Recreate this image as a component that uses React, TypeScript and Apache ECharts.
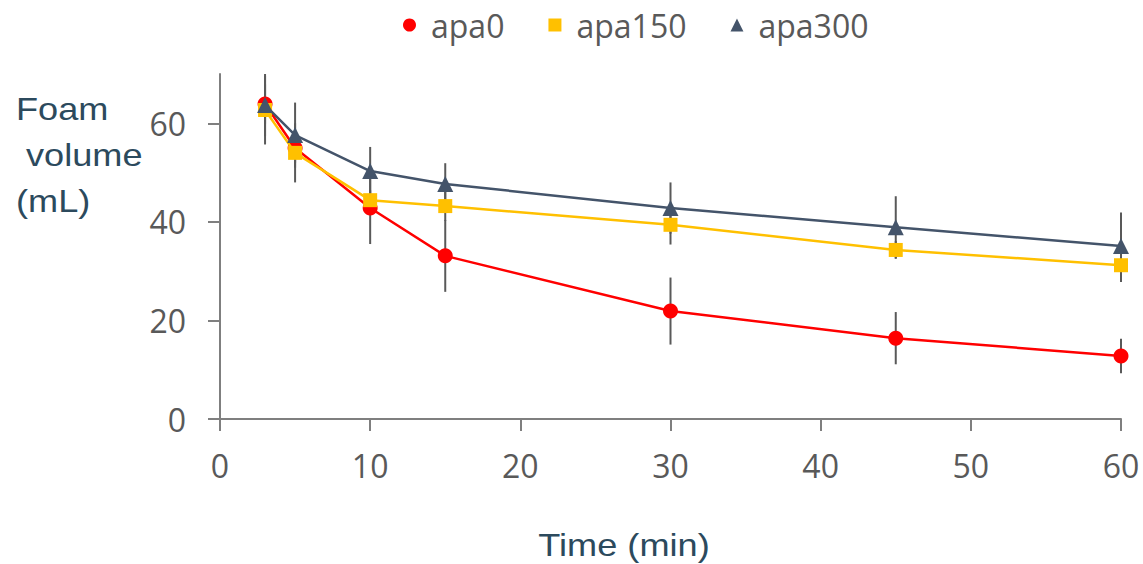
import React, { useEffect, useRef } from "react";
import * as echarts from "echarts";

const times = [3, 5, 10, 15, 30, 45, 60];
const apa0 = [63.9, 55.0, 42.8, 33.1, 21.9, 16.4, 12.8];
const apa150 = [62.7, 54.0, 44.4, 43.2, 39.4, 34.3, 31.2];
const apa300 = [63.7, 57.6, 50.3, 47.7, 42.8, 38.9, 35.1];
const err0 = [4, 3, 7.3, 7.3, 6.8, 5.3, 3.5];
const err150 = [7, 6, 2, 3, 4, 1.8, 3.4];
const err300 = [6.3, 6.6, 4.9, 4.2, 5.2, 6.3, 6.8];
const yTicks = [0, 20, 40, 60];
const xTicks = [0, 10, 20, 30, 40, 50, 60];

const seriesDefs = [
  { name: "apa0", values: apa0, errs: err0, color: "#FF0000", symbol: "circle", size: 15 },
  { name: "apa150", values: apa150, errs: err150, color: "#FFC000", symbol: "rect", size: 14 },
  { name: "apa300", values: apa300, errs: err300, color: "#44546A", symbol: "triangle", size: 16 },
];

export default function App() {
  const ref = useRef<HTMLDivElement>(null);
  useEffect(() => {
    if (!ref.current) return;
    const chart = echarts.init(ref.current, null, { renderer: "svg" });
    const labelColor = "#595959";
    const nameColor = "#2C4A5D";
    const errSeries = seriesDefs.map((s) => ({
      type: "custom",
      name: s.name + "-err",
      z: 1,
      silent: true,
      data: times.map((t, i) => [t, s.values[i], s.errs[i]]),
      renderItem: (params: any, api: any) => {
        const x = api.value(0);
        const y = api.value(1);
        const e = api.value(2);
        const p1 = api.coord([x, y - e]);
        const p2 = api.coord([x, y + e]);
        return {
          type: "line",
          shape: { x1: p1[0], y1: p1[1], x2: p2[0], y2: p2[1] },
          style: { stroke: labelColor, lineWidth: 2 },
        };
      },
    }));
    const lineSeries = seriesDefs.map((s, k) => ({
      type: "line",
      name: s.name,
      z: 3 + k,
      data: times.map((t, i) => [t, s.values[i]]),
      symbol: s.symbol,
      symbolSize: s.size,
      showAllSymbol: true,
      lineStyle: { color: s.color, width: 2.5 },
      itemStyle: { color: s.color },
    }));
    chart.setOption({
      animation: false,
      backgroundColor: "#ffffff",
      textStyle: { fontFamily: "Open Sans" },
      legend: {
        left: 398,
        top: 4,
        itemWidth: 13,
        itemHeight: 13,
        itemGap: 44,
        textStyle: {
          color: labelColor,
          fontSize: 32,
          fontFamily: "Open Sans",
          padding: [0, 0, 0, 10],
        },
        data: [
          { name: "apa0", icon: "circle" },
          { name: "apa150", icon: "rect" },
          { name: "apa300", icon: "triangle" },
        ],
      },
      grid: { left: 220, right: 22, top: 74, bottom: 145, containLabel: false },
      xAxis: {
        type: "value",
        min: 0,
        max: 60,
        interval: 10,
        splitLine: { show: false },
        axisLine: { lineStyle: { color: "#7F7F7F", width: 2 } },
        axisTick: { length: 12, lineStyle: { color: "#7F7F7F", width: 2 } },
        axisLabel: {
          color: labelColor,
          fontSize: 32,
          margin: 30,
          fontFamily: "Open Sans",
          customValues: xTicks,
        },
      },
      yAxis: {
        type: "value",
        min: 0,
        max: 70,
        interval: 20,
        splitLine: { show: false },
        axisLine: { show: true, lineStyle: { color: "#7F7F7F", width: 2 } },
        axisTick: {
          show: true,
          length: 12,
          lineStyle: { color: "#7F7F7F", width: 2 },
          customValues: yTicks,
        },
        axisLabel: {
          color: labelColor,
          fontSize: 32,
          margin: 34,
          fontFamily: "Open Sans",
          customValues: yTicks,
        },
      },
      graphic: [
        {
          type: "text",
          x: 16,
          y: 109,
          scaleX: 1.13,
          style: { text: "Foam", fontSize: 32, fontFamily: "Liberation Sans", fill: nameColor, textAlign: "left", textVerticalAlign: "middle" },
        },
        {
          type: "text",
          x: 26,
          y: 155,
          scaleX: 1.13,
          style: { text: "volume", fontSize: 32, fontFamily: "Liberation Sans", fill: nameColor, textAlign: "left", textVerticalAlign: "middle" },
        },
        {
          type: "text",
          x: 16,
          y: 201,
          scaleX: 1.13,
          style: { text: "(mL)", fontSize: 32, fontFamily: "Liberation Sans", fill: nameColor, textAlign: "left", textVerticalAlign: "middle" },
        },
        {
          type: "text",
          x: 624,
          y: 545,
          scaleX: 1.13,
          style: { text: "Time (min)", fontSize: 32, fontFamily: "Liberation Sans", fill: nameColor, textAlign: "center", textVerticalAlign: "middle" },
        },
      ],
      series: [...errSeries, ...lineSeries],
    });
    return () => chart.dispose();
  }, []);
  return <div ref={ref} style={{ width: 1143, height: 564, position: "absolute", left: 0, top: 0 }} />;
}
